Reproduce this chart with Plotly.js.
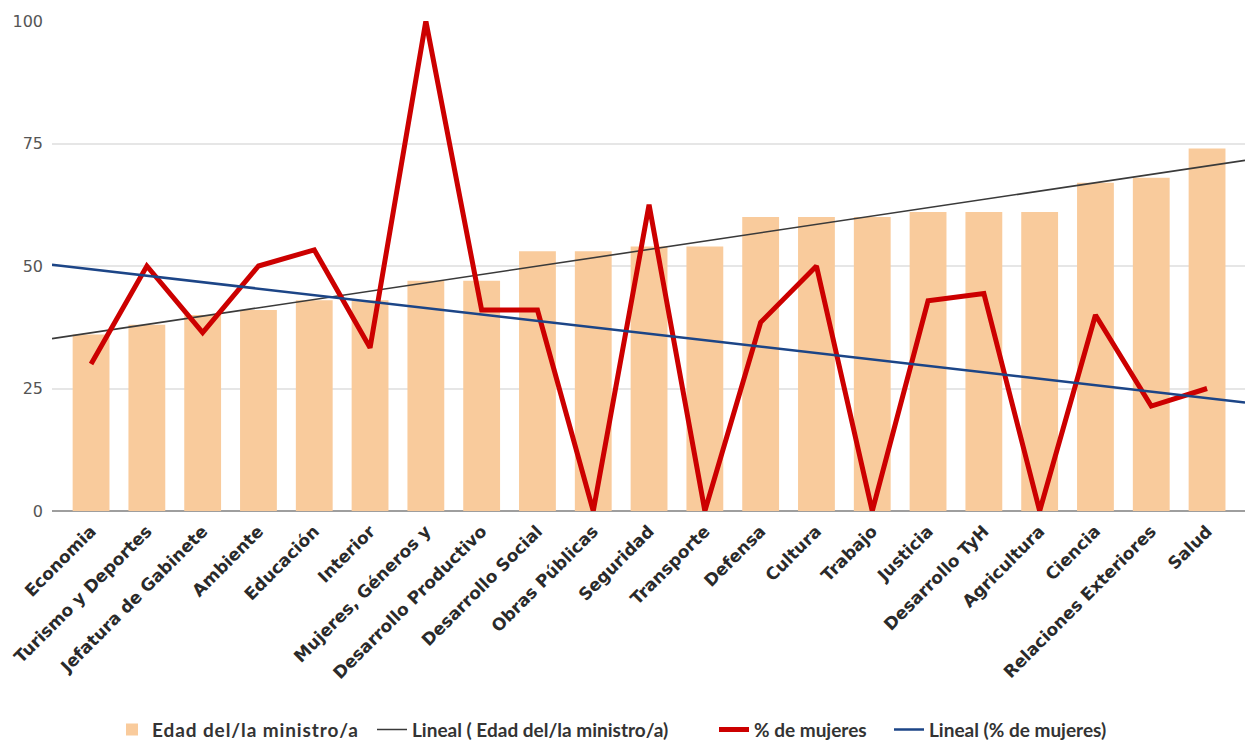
<!DOCTYPE html>
<html>
<head>
<meta charset="utf-8">
<script src="https://cdn.plot.ly/plotly-3.0.1.min.js"></script>
<style>
  html, body { margin: 0; padding: 0; background: #fff; }
  #chart { width: 1245px; height: 740px; }
  .legendtext { letter-spacing: 0.9px; }
</style>
</head>
<body>
<div id="chart"></div>
<script>
// Ministerios, ordenados por edad del/la ministro/a
const ministerios = [
  "Economia", "Turismo y Deportes", "Jefatura de Gabinete", "Ambiente", "Educación",
  "Interior", "Mujeres, Géneros y", "Desarrollo Productivo", "Desarrollo Social",
  "Obras Públicas", "Seguridad", "Transporte", "Defensa", "Cultura", "Trabajo",
  "Justicia", "Desarrollo TyH", "Agricultura", "Ciencia", "Relaciones Exteriores", "Salud"
];

// Edad del/la ministro/a
const edad = [36, 38, 40, 41, 43, 43, 47, 47, 53, 53, 54, 54, 60, 60, 60, 61, 61, 61, 67, 68, 74];

// % de mujeres en cada ministerio
const pctMujeres = [30, 50, 36.4, 50, 53.3, 33.3, 100, 41, 41, 0, 62.5, 0, 38.5, 50, 0, 42.9, 44.4, 0, 40, 21.4, 25];

const yTicks = [0, 25, 50, 75, 100];

// Posiciones numéricas de las categorías
const idx = ministerios.map((_, i) => i);

// Ajuste lineal por mínimos cuadrados (línea de tendencia)
function lineal(ys) {
  const n = ys.length;
  const mx = idx.reduce((a, b) => a + b, 0) / n;
  const my = ys.reduce((a, b) => a + b, 0) / n;
  let sxy = 0, sxx = 0;
  for (let i = 0; i < n; i++) {
    sxy += (idx[i] - mx) * (ys[i] - my);
    sxx += (idx[i] - mx) * (idx[i] - mx);
  }
  const m = sxy / sxx;
  return x => my + m * (x - mx);
}

const xMin = -0.7, xMax = 20.68;
const tendEdad = lineal(edad);
const tendMuj = lineal(pctMujeres);

const traces = [
  {
    type: "bar", x: idx, y: edad, name: "Edad del/la ministro/a", legend: "legend",
    marker: { color: "#f9cb9c" }, width: 0.66, hoverinfo: "y"
  },
  {
    type: "scatter", mode: "lines", x: [xMin, xMax], y: [tendEdad(xMin), tendEdad(xMax)],
    name: "Lineal ( Edad del/la ministro/a)", legend: "legend2",
    line: { color: "#3a3a3a", width: 1.6 }, cliponaxis: false
  },
  {
    type: "scatter", mode: "lines", x: idx, y: pctMujeres, name: "% de mujeres", legend: "legend3",
    line: { color: "#cc0000", width: 5, shape: "linear" }, cliponaxis: false
  },
  {
    type: "scatter", mode: "lines", x: [xMin, xMax], y: [tendMuj(xMin), tendMuj(xMax)],
    name: "Lineal (% de mujeres)", legend: "legend4",
    line: { color: "#1c4587", width: 2.5 }, cliponaxis: false
  }
];

// One single-entry legend per series, laid out along the bottom edge
const legendFont = { family: "Lato", size: 19, color: "#333333", weight: "bold" };
function leyenda(xPx) {
  return {
    orientation: "h", xref: "container", yref: "container",
    x: xPx / 1245, xanchor: "left", y: 0.014, yanchor: "middle",
    bgcolor: "rgba(0,0,0,0)", font: legendFont, itemwidth: 30
  };
}

const layout = {
  width: 1245, height: 740,
  margin: { l: 52, r: 0, t: 21, b: 229 },
  paper_bgcolor: "#ffffff", plot_bgcolor: "#ffffff",
  showlegend: true,
  xaxis: {
    type: "linear", range: [xMin, xMax],
    tickvals: idx, ticktext: ministerios, tickangle: -45,
    tickfont: { family: "DejaVu Sans", size: 17, color: "#2a2a2a", weight: "bold" },
    showgrid: false, zeroline: false, showline: false, ticks: "",
    ticklabelstandoff: 6, fixedrange: true
  },
  yaxis: {
    range: [0, 100], tickvals: yTicks, ticktext: yTicks.map(String),
    tickfont: { family: "DejaVu Sans", size: 16, color: "#555555" },
    showgrid: true, gridcolor: "#e6e6e6", gridwidth: 2,
    zeroline: true, zerolinecolor: "#9e9e9e", zerolinewidth: 2,
    showline: false, ticks: "", ticklabelstandoff: 8, fixedrange: true
  },
  legend: leyenda(112),
  legend2: leyenda(372),
  legend3: leyenda(714),
  legend4: leyenda(889)
};

Plotly.newPlot("chart", traces, layout, { displayModeBar: false, staticPlot: true });
</script>
</body>
</html>
